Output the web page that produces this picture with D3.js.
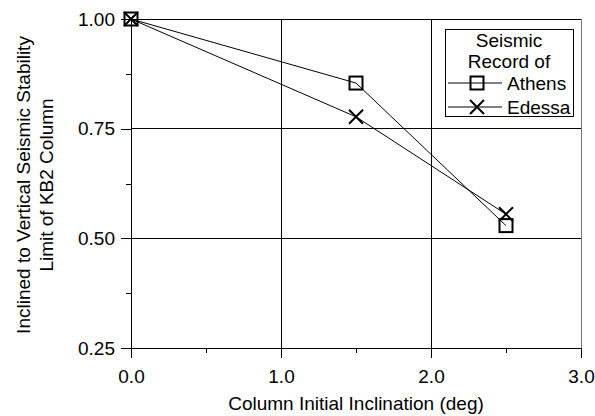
<!DOCTYPE html>
<html>
<head>
<meta charset="utf-8">
<script src="https://cdn.jsdelivr.net/npm/d3@7"></script>
<style>
  body { margin: 0; background: #fff; }
  text { font-family: "Liberation Sans", Arial, sans-serif; fill: #000; }
</style>
</head>
<body>
<svg id="chart" width="595" height="416"></svg>
<script>
// data
const inclination = [0.0, 1.5, 2.5];
const athens = [1.0, 0.854, 0.529];
const edessa = [1.0, 0.777, 0.555];
const xTicks = [0, 1, 2, 3];
const yTicks = [0.25, 0.5, 0.75, 1.0];
const legendTitle = ["Seismic", "Record of"];
const seriesNames = ["Athens", "Edessa"];

const fs = '19px';
const margin = {top: 19, right: 14, bottom: 68, left: 131};
const width = 595, height = 416;
const chartW = width - margin.left - margin.right;
const chartH = height - margin.top - margin.bottom;

const svg = d3.select('#chart');
const g = svg.append('g').attr('transform', `translate(${margin.left},${margin.top})`);

const x = d3.scaleLinear().domain([0, 3]).range([0, chartW]);
const y = d3.scaleLinear().domain([0.25, 1.0]).range([chartH, 0]);

// grid
g.append('g').selectAll('line').data(yTicks).join('line')
  .attr('x1', 0).attr('x2', chartW)
  .attr('y1', d => y(d)).attr('y2', d => y(d))
  .attr('stroke', '#000').attr('stroke-width', 1).attr('shape-rendering', 'crispEdges');
g.append('g').selectAll('line').data(xTicks.filter(d => d > 0)).join('line')
  .attr('x1', d => x(d)).attr('x2', d => x(d))
  .attr('y1', 0).attr('y2', chartH)
  .attr('stroke', d => d === 3 ? '#777' : '#000').attr('stroke-width', 1).attr('shape-rendering', 'crispEdges');

// axes
const xAxis = g.append('g').attr('transform', `translate(0,${chartH})`)
  .call(d3.axisBottom(x).tickValues(xTicks).tickFormat(d3.format('.1f')).tickSize(10).tickSizeOuter(0));
const xMinor = g.append('g').attr('transform', `translate(0,${chartH})`)
  .call(d3.axisBottom(x).tickValues([0.5, 1.5, 2.5]).tickFormat('').tickSize(5).tickSizeOuter(0));
const yAxis = g.append('g')
  .call(d3.axisLeft(y).tickValues(yTicks).tickFormat(d3.format('.2f')).tickSize(10).tickSizeOuter(0));
const yMinor = g.append('g')
  .call(d3.axisLeft(y).tickValues([0.375, 0.625, 0.875]).tickFormat('').tickSize(5).tickSizeOuter(0));

[xAxis, xMinor, yAxis, yMinor].forEach(a => {
  a.selectAll('path, line').attr('stroke', '#000').attr('shape-rendering', 'crispEdges');
  a.selectAll('text').style('font-size', fs).style('font-family', '"Liberation Sans", Arial, sans-serif');
});
xAxis.selectAll('text').attr('dy', 0).attr('y', 35);
yAxis.selectAll('text').attr('x', -16);

// axis titles
svg.append('text')
  .attr('x', 356).attr('y', 410)
  .attr('text-anchor', 'middle').style('font-size', fs)
  .text('Column Initial Inclination (deg)');
const yl = svg.append('text')
  .attr('transform', `translate(0,185) rotate(-90)`)
  .attr('text-anchor', 'middle').style('font-size', fs);
yl.append('tspan').attr('x', 0).attr('y', 30).text('Inclined to Vertical Seismic Stability');
yl.append('tspan').attr('x', 0).attr('y', 53).text('Limit of KB2 Column');

// series
const line = d3.line().x(d => x(d[0])).y(d => y(d[1]));
const athensPts = inclination.map((d, i) => [d, athens[i]]);
const edessaPts = inclination.map((d, i) => [d, edessa[i]]);

g.append('path').datum(athensPts).attr('d', line).attr('fill', 'none').attr('stroke', '#000').attr('stroke-width', 1);
g.append('path').datum(edessaPts).attr('d', line).attr('fill', 'none').attr('stroke', '#000').attr('stroke-width', 1);

const sq = 13;
function square(sel, cx, cy) {
  sel.append('rect').attr('x', cx - sq / 2).attr('y', cy - sq / 2)
    .attr('width', sq).attr('height', sq)
    .attr('fill', 'none').attr('stroke', '#000').attr('stroke-width', 2);
}
function cross(sel, cx, cy) {
  const h = 7;
  sel.append('path')
    .attr('d', `M${cx - h},${cy - h}L${cx + h},${cy + h}M${cx - h},${cy + h}L${cx + h},${cy - h}`)
    .attr('stroke', '#000').attr('stroke-width', 2).attr('fill', 'none');
}
athensPts.forEach(d => square(g, x(d[0]), y(d[1])));
edessaPts.forEach(d => cross(g, x(d[0]), y(d[1])));

// legend
const lg = svg.append('g').attr('transform', 'translate(445,29)');
lg.append('rect').attr('width', 128).attr('height', 87)
  .attr('fill', '#fff').attr('stroke', '#000').attr('stroke-width', 1).attr('shape-rendering', 'crispEdges');
legendTitle.forEach((t, i) => {
  lg.append('text').attr('x', 64).attr('y', 18 + i * 21)
    .attr('text-anchor', 'middle').style('font-size', fs).text(t);
});
seriesNames.forEach((name, i) => {
  const cy = 54 + i * 24;
  lg.append('line').attr('x1', 3).attr('x2', 57).attr('y1', cy).attr('y2', cy)
    .attr('stroke', '#000').attr('stroke-width', 1);
  if (i === 0) square(lg, 32, cy); else cross(lg, 32, cy);
  lg.append('text').attr('x', 62).attr('y', cy + 7).style('font-size', fs).text(name);
});
</script>
</body>
</html>
